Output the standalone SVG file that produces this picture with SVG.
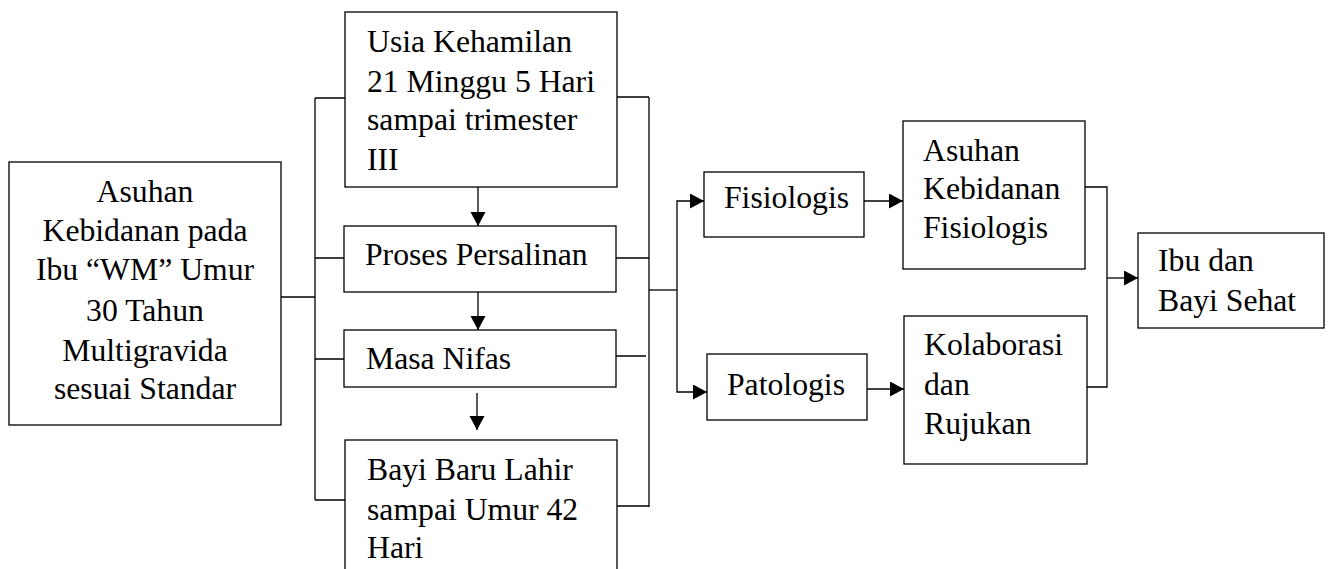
<svg xmlns="http://www.w3.org/2000/svg" width="1328" height="569" viewBox="0 0 1328 569">
<style>
.box{fill:#fff;stroke:#000;stroke-width:1.3}
.ln{fill:none;stroke:#000;stroke-width:1.3}
text{font-family:"Liberation Serif","Times New Roman",serif;font-size:31.7px;fill:#000}
.c{text-anchor:middle}
</style>
<defs>
<marker id="ah" markerUnits="userSpaceOnUse" markerWidth="15" markerHeight="16" refX="14" refY="7.5" orient="auto">
<path d="M0,0 L14,7.5 L0,15 z" fill="#000"/>
</marker>
</defs>
<rect width="1328" height="569" fill="#fff"/>
<g id="connectors">
<path class="ln" d="M281,297 H315"/>
<path class="ln" d="M315,98 V500"/>
<path class="ln" d="M315,98 H345 M315,258 H344 M315,359 H344 M315,500 H345"/>
<path class="ln" d="M478,187 V226" marker-end="url(#ah)"/>
<path class="ln" d="M478,292 V330" marker-end="url(#ah)"/>
<path class="ln" d="M477,393 V430" marker-end="url(#ah)"/>
<path class="ln" d="M617,97 H649 M616,258 H649 M616,356 H646 M617,506 H649"/>
<path class="ln" d="M649,97 V507"/>
<path class="ln" d="M649,290 H677"/>
<path class="ln" d="M677,290 V201 H704" marker-end="url(#ah)"/>
<path class="ln" d="M677,290 V392 H707" marker-end="url(#ah)"/>
<path class="ln" d="M864,201 H903" marker-end="url(#ah)"/>
<path class="ln" d="M867,389 H904" marker-end="url(#ah)"/>
<path class="ln" d="M1085,187 H1107 V387 H1087"/>
<path class="ln" d="M1107,278 H1138" marker-end="url(#ah)"/>
</g>
<g id="node-main">
<rect class="box" x="9" y="162" width="272" height="263"/>
<text class="c" x="145" y="202">Asuhan</text>
<text class="c" x="145" y="241">Kebidanan pada</text>
<text class="c" x="145" y="280">Ibu “WM” Umur</text>
<text class="c" x="145" y="321">30 Tahun</text>
<text class="c" x="145" y="361">Multigravida</text>
<text class="c" x="145" y="399">sesuai Standar</text>
</g>
<g id="node-usia">
<rect class="box" x="345" y="12" width="272" height="175"/>
<text x="367" y="52">Usia Kehamilan</text>
<text x="367" y="92">21 Minggu 5 Hari</text>
<text x="367" y="130">sampai trimester</text>
<text x="367" y="170">III</text>
</g>
<g id="node-proses">
<rect class="box" x="344" y="226" width="272" height="66"/>
<text x="365" y="265">Proses Persalinan</text>
</g>
<g id="node-nifas">
<rect class="box" x="344" y="330" width="272" height="57"/>
<text x="366" y="369">Masa Nifas</text>
</g>
<g id="node-bayi">
<rect class="box" x="345" y="440" width="272" height="160"/>
<text x="367" y="480">Bayi Baru Lahir</text>
<text x="367" y="520">sampai Umur 42</text>
<text x="367" y="558">Hari</text>
</g>
<g id="node-fisiologis">
<rect class="box" x="704" y="172" width="160" height="65"/>
<text x="724" y="208">Fisiologis</text>
</g>
<g id="node-patologis">
<rect class="box" x="707" y="354" width="160" height="66"/>
<text x="727" y="395">Patologis</text>
</g>
<g id="node-asuhan-fisiologis">
<rect class="box" x="903" y="121" width="182" height="148"/>
<text x="923" y="161">Asuhan</text>
<text x="923" y="199">Kebidanan</text>
<text x="923" y="238">Fisiologis</text>
</g>
<g id="node-kolaborasi">
<rect class="box" x="904" y="316" width="183" height="148"/>
<text x="924" y="355">Kolaborasi</text>
<text x="924" y="395">dan</text>
<text x="924" y="434">Rujukan</text>
</g>
<g id="node-ibu-bayi">
<rect class="box" x="1138" y="233" width="186" height="95"/>
<text x="1158" y="271">Ibu dan</text>
<text x="1158" y="311">Bayi Sehat</text>
</g>
</svg>
